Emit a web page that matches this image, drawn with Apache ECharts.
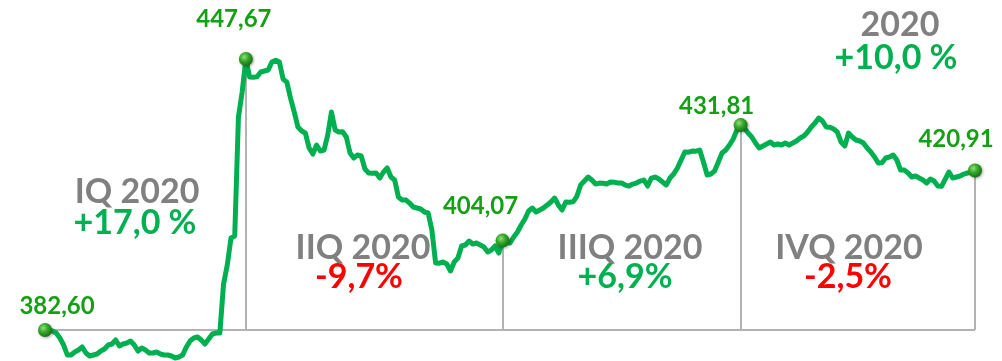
<!DOCTYPE html>
<html>
<head>
<meta charset="utf-8">
<style>
  html, body { margin: 0; padding: 0; background: #ffffff; }
  #chart { width: 1002px; height: 361px; }
</style>
<script src="https://cdn.jsdelivr.net/npm/echarts@6/dist/echarts.min.js"></script>
</head>
<body>
<div id="chart"></div>
<script>
// Daily index closes for 2020, one value per trading session
const prices = [
  382.60, 382.55, 382.36, 381.88, 380.68, 379.00, 376.60, 376.60, 377.32, 377.80,
  378.52, 377.08, 376.36, 376.60, 376.84, 377.56, 378.04, 379.00, 379.24, 380.20,
  378.76, 379.24, 379.48, 379.96, 379.00, 377.56, 378.28, 377.80, 377.08, 377.08,
  377.32, 376.84, 376.60, 376.60, 376.36, 375.88, 376.12, 376.60, 378.52, 379.96,
  380.68, 380.92, 380.20, 379.24, 380.44, 381.64, 381.88, 381.88, 393.64, 398.21,
  404.69, 405.17, 433.74, 439.74, 447.67, 443.35, 443.30, 443.40, 444.55, 444.79,
  445.03, 446.95, 447.40, 446.95, 442.87, 442.14, 438.30, 434.94, 431.34, 430.38,
  429.90, 426.30, 424.86, 427.02, 425.58, 425.82, 429.42, 434.94, 430.62, 430.14,
  430.20, 428.94, 425.10, 423.90, 424.62, 424.38, 421.26, 420.30, 420.25, 420.30,
  419.10, 420.54, 421.50, 419.34, 418.62, 414.53, 413.81, 413.85, 413.09, 412.13,
  411.89, 411.65, 410.93, 410.69, 406.61, 398.69, 398.65, 398.93, 398.45, 396.77,
  398.93, 399.89, 402.77, 403.01, 403.97, 403.25, 403.49, 403.01, 402.53, 401.33,
  401.81, 402.77, 401.09, 404.07, 403.73, 403.49, 404.93, 406.13, 407.81, 409.25,
  411.17, 411.89, 410.93, 411.41, 411.89, 412.61, 413.33, 414.29, 412.61, 411.41,
  413.33, 413.30, 413.40, 414.77, 417.41, 418.37, 419.33, 418.61, 417.65, 417.89,
  417.85, 417.65, 418.13, 418.10, 417.89, 417.90, 417.41, 417.17, 417.65, 417.89,
  418.37, 418.61, 417.17, 419.09, 419.33, 418.85, 418.13, 417.41, 419.09, 420.05,
  421.49, 423.42, 425.34, 425.30, 425.58, 425.55, 425.82, 422.94, 419.82, 420.06,
  420.78, 422.94, 425.10, 425.82, 427.02, 428.46, 430.62, 431.81, 431.10, 429.90,
  428.94, 427.50, 426.30, 426.78, 427.26, 427.74, 427.02, 427.26, 427.02, 427.50,
  427.02, 427.50, 427.98, 428.70, 429.18, 430.14, 431.34, 432.30, 433.50, 432.78,
  431.34, 431.30, 430.86, 430.14, 427.74, 426.78, 429.90, 428.94, 428.22, 427.98,
  427.50, 426.30, 425.34, 424.14, 422.70, 422.75, 423.90, 424.14, 424.62, 423.42,
  421.02, 421.00, 420.30, 419.34, 419.58, 419.10, 418.62, 417.89, 418.85, 418.37,
  417.17, 417.10, 418.85, 420.54, 419.10, 419.34, 419.58, 420.05, 420.30, 420.54,
  420.91
];
const days = prices.map((_, i) => i);

// Session indices of the year start and of each quarter close
const keyDays = [0, 54, 123, 187, 250];

// Quarter and year captions with their changes
const periodNames = ['IQ 2020', 'IIQ 2020', 'IIIQ 2020', 'IVQ 2020', '2020'];
const periodChanges = ['+17,0 %', '-9,7%', '+6,9%', '-2,5%', '+10,0 %'];

const GREEN_LINE = '#00b050';
const GREEN_TEXT = '#14a014';
const GREY_TEXT = '#808080';
const RED = '#ff0000';
const RULE = '#b3b3b3';

const fmt = v => v.toFixed(2).replace('.', ',');
const baseValue = prices[keyDays[0]];

// label offsets for each key point (relative to the marker)
const labelOffsets = [[12, 0], [-12, -16], [-22, -10], [-24, 5], [-19, -7]];

const keyPoints = keyDays.map((d, i) => ({
  value: [d, prices[d]],
  label: {
    show: true,
    position: 'top',
    offset: labelOffsets[i],
    formatter: fmt(prices[d]),
    color: GREEN_TEXT,
    fontFamily: 'Lato',
    fontWeight: 'bold',
    fontSize: 24
  }
}));

// vertical rules from each quarter close down to the opening level
const ruleLines = keyDays.slice(1).map(d => [
  { coord: [d, prices[d]] },
  { coord: [d, baseValue] }
]);

// caption placement (centre x, top y of each line)
const captionPos = [[137, 175], [363, 231], [630, 231], [849, 231], [900, 8]];
const changeColors = [GREEN_LINE, RED, GREEN_LINE, RED, GREEN_LINE];
const changePos = [[135, 206], [359, 260], [625, 260], [848, 260], [896, 41]];

const graphics = [];
periodNames.forEach((name, i) => {
  graphics.push({
    type: 'text', x: captionPos[i][0], y: captionPos[i][1],
    style: {
      text: name, fill: GREY_TEXT, align: 'center', verticalAlign: 'top',
      font: 'bold 34px Lato'
    }
  });
  graphics.push({
    type: 'text', x: changePos[i][0], y: changePos[i][1],
    style: {
      text: periodChanges[i], fill: changeColors[i], align: 'center', verticalAlign: 'top',
      font: 'bold 34px Lato'
    }
  });
});

const chart = echarts.init(document.getElementById('chart'), null, { renderer: 'canvas' });
chart.setOption({
  animation: false,
  backgroundColor: '#ffffff',
  grid: { left: 45, right: 27, top: 41, bottom: 3.5 },
  xAxis: {
    type: 'category', data: days, boundaryGap: false,
    show: false
  },
  yAxis: {
    type: 'value', min: 376, max: 452, show: false, splitLine: { show: false }
  },
  graphic: graphics,
  series: [
    {
      type: 'line',
      data: prices,
      showSymbol: false,
      clip: false,
      z: 3,
      lineStyle: { color: GREEN_LINE, width: 5, join: 'round', cap: 'round' },
      markLine: {
        silent: true,
        symbol: 'none',
        label: { show: false },
        z: 2,
        lineStyle: { color: RULE, width: 2, type: 'solid' },
        data: [
          [{ coord: [0, baseValue] }, { coord: [keyDays[4], baseValue] }],
          ...ruleLines
        ]
      }
    },
    {
      type: 'scatter',
      data: keyPoints,
      symbol: 'circle',
      symbolSize: 14,
      z: 5,
      itemStyle: {
        opacity: 1,
        color: {
          type: 'radial', x: 0.38, y: 0.35, r: 0.7,
          colorStops: [
            { offset: 0, color: '#8fe07a' },
            { offset: 0.45, color: '#35a82a' },
            { offset: 1, color: '#136b16' }
          ]
        },
        shadowColor: 'rgba(0,0,0,0.35)', shadowBlur: 3, shadowOffsetX: 1, shadowOffsetY: 1
      }
    }
  ]
});
</script>
</body>
</html>
